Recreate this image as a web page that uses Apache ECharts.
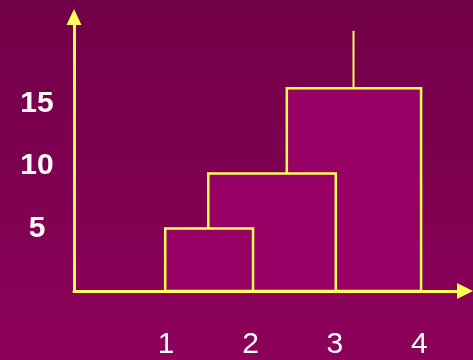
<!DOCTYPE html>
<html>
<head>
<meta charset="utf-8">
<script src="https://cdn.jsdelivr.net/npm/echarts@6/dist/echarts.min.js"></script>
<style>
  html, body { margin: 0; padding: 0; }
  #main { width: 473px; height: 360px; }
</style>
</head>
<body>
<div id="main"></div>
<script>
// boxes, listed back to front (later ones are drawn on top)
var boxStart = [2.43, 1.5, 0.99];
var boxEnd = [4.02, 3.01, 2.03];
var boxHeight = [16.2, 9.4, 5];
// thin line standing on the tallest box
var stemX = 3.22;
var stemTop = 20.8;
var xTicks = [1, 2, 3, 4];
var yTicks = [5, 10, 15];

var yellow = "#ffff55";
var font = "'Liberation Sans', Arial, sans-serif";

var boxData = boxStart.map(function (s, i) {
  return [s, boxEnd[i], boxHeight[i]];
});

var myChart = echarts.init(document.getElementById("main"));

var option = {
  animation: false,
  backgroundColor: {
    type: "linear", x: 0, y: 0, x2: 0, y2: 1,
    colorStops: [
      { offset: 0, color: "#710048" },
      { offset: 1, color: "#8d005a" }
    ]
  },
  grid: { left: 74, right: 8, top: 17, bottom: 68 },
  xAxis: {
    type: "value",
    min: -0.09,
    max: 4.54,
    splitLine: { show: false },
    axisTick: { show: false },
    axisLine: {
      lineStyle: { color: yellow, width: 3 },
      symbol: ["none", "triangle"],
      symbolSize: [16, 16]
    },
    axisLabel: {
      customValues: xTicks,
      color: "#fff",
      fontSize: 30,
      fontFamily: font,
      verticalAlign: "middle",
      margin: 54
    }
  },
  yAxis: {
    type: "value",
    min: 0,
    max: 21.9,
    splitLine: { show: false },
    axisTick: { show: false },
    axisLine: {
      onZero: false,
      lineStyle: { color: yellow, width: 3 },
      symbol: ["none", "triangle"],
      symbolSize: [15, 16]
    },
    axisLabel: {
      customValues: yTicks,
      color: "#fff",
      fontSize: 30,
      fontWeight: "bold",
      fontFamily: font,
      align: "center",
      margin: 37,
      padding: [0, 0, 5, 0]
    }
  },
  series: [
    {
      type: "custom",
      data: boxData,
      encode: { x: [0, 1], y: 2 },
      renderItem: function (params, api) {
        var p0 = api.coord([api.value(0), 0]);
        var p1 = api.coord([api.value(1), api.value(2)]);
        return {
          type: "rect",
          shape: { x: p0[0], y: p1[1], width: p1[0] - p0[0], height: p0[1] - p1[1] },
          style: { fill: "#990066", stroke: yellow, lineWidth: 2.5 }
        };
      }
    },
    {
      type: "line",
      data: [[stemX, boxHeight[0]], [stemX, stemTop]],
      symbol: "none",
      lineStyle: { color: yellow, width: 2 }
    }
  ]
};
myChart.setOption(option);
</script>
</body>
</html>
